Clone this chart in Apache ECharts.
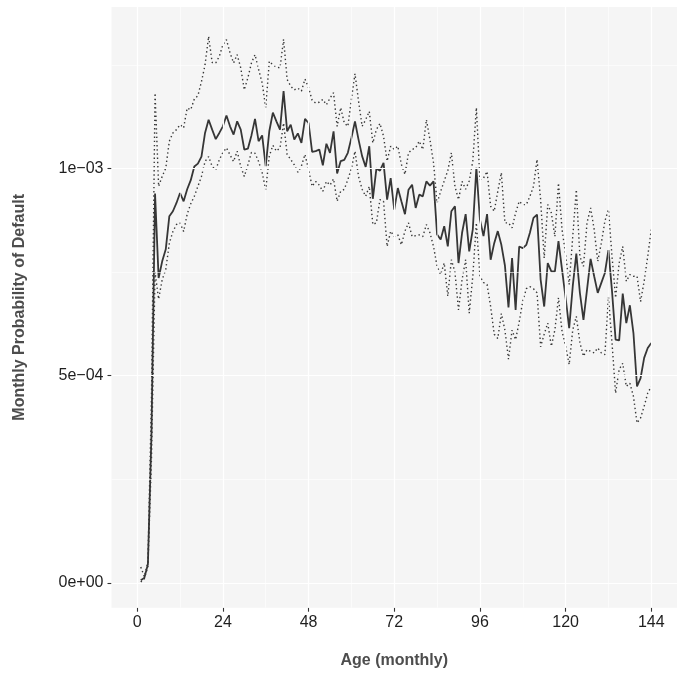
<!DOCTYPE html>
<html>
<head>
<meta charset="utf-8">
<script src="https://cdn.jsdelivr.net/npm/echarts@6/dist/echarts.min.js"></script>
<style>
html,body{margin:0;padding:0;background:#ffffff;}
#chart{width:677px;height:675px;}
</style>
</head>
<body>
<div id="chart"></div>
<script>
// Age in months
var ages = [1,2,3,4,5,6,7,8,9,10,11,12,13,14,15,16,17,18,19,20,21,22,23,24,25,26,27,28,29,30,
31,32,33,34,35,36,37,38,39,40,41,42,43,44,45,46,47,48,49,50,51,52,53,54,55,56,57,58,59,60,
61,62,63,64,65,66,67,68,69,70,71,72,73,74,75,76,77,78,79,80,81,82,83,84,85,86,87,88,89,90,
91,92,93,94,95,96,97,98,99,100,101,102,103,104,105,106,107,108,109,110,111,112,113,114,115,116,117,118,119,120,
121,122,123,124,125,126,127,128,129,130,131,132,133,134,135,136,137,138,139,140,141,142,143,144];

// Monthly probability of default, in units of 1e-04
var pdMean = [0.06,0.12,0.45,3.6,9.4,7.36,7.76,8.05,8.85,8.97,9.17,9.41,9.21,9.5,9.72,10.05,10.12,10.29,10.86,11.18,
10.94,10.71,10.86,11.02,11.28,11.02,10.82,11.14,10.94,10.46,10.48,10.8,11.2,10.66,10.8,10.06,10.9,11.35,11.14,10.94,
11.87,10.9,11.06,10.7,10.85,10.62,11.2,11.1,10.4,10.42,10.46,10.08,10.6,10.38,10.9,9.88,10.18,10.21,10.38,10.74,
11.14,10.7,10.3,10.04,10.54,9.27,10.0,9.95,10.14,9.25,9.77,9.01,9.53,9.21,8.9,9.49,9.61,9.05,9.37,9.33,
9.69,9.59,9.69,8.41,8.29,8.61,8.12,8.97,9.09,7.72,8.45,8.9,8.0,8.53,10.02,8.77,8.37,8.9,7.8,8.2,
8.49,8.16,7.66,6.65,7.84,6.59,8.12,8.08,8.16,8.45,8.81,8.89,7.32,6.67,7.72,7.52,7.52,8.25,7.56,6.88,
6.15,7.16,7.95,7.0,6.35,7.08,7.82,7.4,7.0,7.24,7.48,8.03,7.04,5.87,5.85,6.98,6.27,6.7,6.03,4.74,
4.94,5.43,5.67,5.79];

var pdUpper = [0.38,0.15,0.5,4.5,11.82,9.57,9.81,10.01,10.66,10.86,10.94,11.06,10.98,11.46,11.42,11.68,11.76,12.1,12.5,13.19,
12.56,12.55,12.71,12.99,13.11,12.79,12.55,12.75,12.43,11.9,12.19,12.55,12.75,12.39,12.07,11.47,12.59,12.5,12.45,12.43,
13.12,12.15,11.99,11.9,11.94,11.87,12.16,11.95,11.65,11.58,11.6,11.67,11.54,11.7,11.83,11.02,11.47,11.1,11.02,11.67,
12.29,11.63,11.02,11.18,11.38,10.62,10.94,11.09,10.78,10.18,10.54,10.46,10.54,10.1,9.86,10.38,10.46,10.5,10.66,10.46,
11.18,10.7,10.14,9.17,9.45,9.7,9.95,10.38,9.57,9.25,9.69,9.5,9.7,10.18,11.47,9.73,9.77,9.93,9.09,8.97,
9.45,9.9,8.69,8.69,8.57,8.93,9.21,9.13,9.13,9.33,9.57,10.22,9.25,7.84,9.13,8.93,8.36,9.65,8.53,7.93,
7.2,8.36,9.49,7.88,7.64,8.69,9.05,8.53,7.76,8.2,8.73,9.01,7.88,6.88,7.72,8.12,7.28,7.44,7.4,7.4,
6.79,7.28,7.88,8.53];

var pdLower = [0.02,0.1,0.4,3.0,7.5,6.85,7.32,7.56,8.2,8.48,8.65,8.69,8.48,8.9,9.15,9.33,9.57,9.81,10.17,10.29,
10.05,9.97,10.21,10.39,10.5,10.33,10.17,10.42,10.05,9.81,10.09,10.39,10.37,10.17,9.9,9.49,10.3,10.56,10.42,10.5,
11.1,10.34,10.22,10.09,9.91,10.06,10.34,9.97,9.57,9.69,9.6,9.45,9.69,9.6,9.75,9.21,9.45,9.5,9.73,10.0,
10.42,9.81,9.5,9.33,9.57,8.65,8.69,9.25,9.21,8.12,8.49,8.36,8.4,8.16,8.49,8.69,8.36,8.38,8.4,8.36,
8.65,8.45,8.12,7.64,7.44,7.72,6.92,7.8,7.5,6.59,7.32,7.8,6.51,7.4,8.69,7.4,7.25,7.2,6.67,6.0,
5.9,6.5,6.1,5.4,6.1,5.87,6.3,6.8,7.1,7.15,7.1,7.0,5.7,6.0,6.27,5.71,6.11,6.88,6.07,5.71,
5.27,6.11,6.43,5.8,5.47,5.63,5.59,5.55,5.67,5.55,5.51,6.9,5.79,4.58,5.15,5.3,4.74,4.82,4.5,3.86,
3.98,4.26,4.58,4.74];

var xMajor = [0,24,48,72,96,120,144];
var xMinor = [12,36,60,84,108,132];
var yMajor = [0,5,10];
var yMinor = [2.5,7.5,12.5];
var yTickLabels = {0:'0e+00',5:'5e\u221204',10:'1e\u221203'};

function pairs(vals){
  var out = [];
  for (var i = 0; i < ages.length; i++) out.push([ages[i], vals[i]]);
  return out;
}

var gridLines = [];
xMinor.forEach(function(v){ gridLines.push({xAxis: v, lineStyle:{color:'#ffffff', width:0.6, type:'solid'}}); });
yMinor.forEach(function(v){ gridLines.push({yAxis: v, lineStyle:{color:'#ffffff', width:0.6, type:'solid'}}); });
xMajor.forEach(function(v){ gridLines.push({xAxis: v, lineStyle:{color:'#ffffff', width:1.2, type:'solid'}}); });
yMajor.forEach(function(v){ gridLines.push({yAxis: v, lineStyle:{color:'#ffffff', width:1.2, type:'solid'}}); });

var lineColor = '#363636';
var fontFam = '"Liberation Sans", Arial, Helvetica, sans-serif';

var chart = echarts.init(document.getElementById('chart'), null, {renderer:'canvas'});
chart.setOption({
  animation: false,
  backgroundColor: '#ffffff',
  grid: {
    left: 111.5, right: -10, top: 7, bottom: 67.3,
    show: true, backgroundColor: '#f5f5f5', borderWidth: 0
  },
  xAxis: {
    type: 'value', min: -7.2, max: 151.2,
    name: 'Age (monthly)', nameLocation: 'middle', nameGap: 45,
    nameTextStyle: {fontFamily: fontFam, fontWeight: 'bold', fontSize: 16, color: '#4d4d4d'},
    axisLine: {show: true, onZero: false, lineStyle: {color: '#f5f5f5', width: 0, opacity: 0}},
    axisTick: {show: true, inside: false, customValues: xMajor, length: 4, lineStyle: {color: '#333333', width: 1.1}},
    axisLabel: {show: true, customValues: xMajor, margin: 7, fontFamily: fontFam, fontSize: 16, color: '#1f1f1f'},
    splitLine: {show: false}
  },
  yAxis: {
    type: 'value', min: -0.6, max: 13.9,
    name: 'Monthly Probability of Default', nameLocation: 'middle', nameGap: 84, nameRotate: 90,
    nameTextStyle: {fontFamily: fontFam, fontWeight: 'bold', fontSize: 16, color: '#4d4d4d'},
    axisLine: {show: true, onZero: false, lineStyle: {color: '#f5f5f5', width: 0, opacity: 0}},
    axisTick: {show: true, inside: false, customValues: yMajor, length: 4, lineStyle: {color: '#333333', width: 1.1}},
    axisLabel: {show: true, customValues: yMajor, margin: 8, fontFamily: fontFam, fontSize: 16, color: '#1f1f1f',
      formatter: function(v){ return yTickLabels[v] !== undefined ? yTickLabels[v] : ''; }},
    splitLine: {show: false}
  },
  series: [
    {
      type: 'line', data: [], z: 1, silent: true,
      markLine: {silent: true, symbol: ['none','none'], label: {show: false}, animation: false, data: gridLines}
    },
    {
      name: 'upper', type: 'line', data: pairs(pdUpper), showSymbol: false, z: 3,
      lineStyle: {color: lineColor, width: 1.4, type: [1.4, 2.8], cap: 'butt'}
    },
    {
      name: 'lower', type: 'line', data: pairs(pdLower), showSymbol: false, z: 3,
      lineStyle: {color: lineColor, width: 1.4, type: [1.4, 2.8], cap: 'butt'}
    },
    {
      name: 'mean', type: 'line', data: pairs(pdMean), showSymbol: false, z: 4,
      lineStyle: {color: lineColor, width: 1.8, type: 'solid'}
    }
  ]
});
</script>
</body>
</html>
